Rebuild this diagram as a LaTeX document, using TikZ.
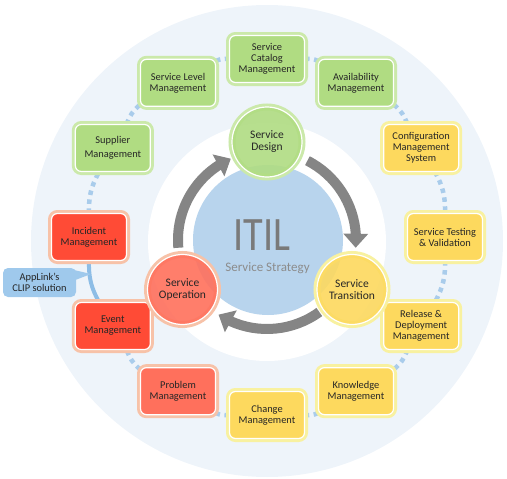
\documentclass[tikz,border=0pt]{standalone}
\usepackage{fontspec}
\setmainfont{Carlito}
\usetikzlibrary{arrows.meta,bending,calc}
\pgfdeclarelayer{bgzero}
\pgfdeclarelayer{bgone}
\pgfsetlayers{bgzero,bgone,main}
\definecolor{outerbg}{HTML}{EEF4FA}
\definecolor{itilblue}{HTML}{B8D4ED}
\definecolor{gfill}{HTML}{B0DC82}
\definecolor{gglow}{HTML}{CBE9AA}
\definecolor{yfill}{HTML}{FDD95E}
\definecolor{yglow}{HTML}{F8F1A0}
\definecolor{rfill}{HTML}{FF4B36}
\definecolor{rfilltwo}{HTML}{FF705C}
\definecolor{rglow}{HTML}{F7C2A8}
\definecolor{dotblue}{HTML}{A9CCEB}
\definecolor{clipblue}{HTML}{8DBDE6}
\definecolor{callfill}{HTML}{9FC9EC}
\definecolor{arrowgray}{HTML}{858585}
\definecolor{txt}{HTML}{262626}
\definecolor{itilgray}{HTML}{7A7A7A}
\definecolor{stratgray}{HTML}{8C8C8C}
\tikzset{
  procbox/.style={rectangle, rounded corners=6pt, minimum width=75pt, minimum height=47pt,
    inner sep=1pt, align=center, draw=white, line width=1.2pt, text=txt,
    font=\fontsize{10.4}{10.9}\selectfont},
  gbox/.style={procbox, fill=gfill, preaction={draw=gglow, line width=7pt}},
  ybox/.style={procbox, fill=yfill, preaction={draw=yglow, line width=7pt}},
  rbox/.style={procbox, fill=rfill, preaction={draw=rglow, line width=7pt}},
  rboxlight/.style={procbox, fill=rfilltwo, preaction={draw=rglow, line width=7pt}},
  phase/.style={circle, minimum size=70pt, inner sep=0pt, align=center, draw=white,
    line width=1.2pt, text=txt, font=\fontsize{11.5}{12}\selectfont},
  gphase/.style={phase, fill=gfill, fill opacity=0.9, text opacity=1, preaction={draw=gglow, line width=7pt, draw opacity=1}},
  yphase/.style={phase, fill=yfill, fill opacity=0.9, text opacity=1, preaction={draw=yglow, line width=7pt, draw opacity=1}},
  rphase/.style={phase, fill=rfilltwo, fill opacity=0.9, text opacity=1, preaction={draw=rglow, line width=7pt, draw opacity=1}},
  dotconn/.style={draw=dotblue, line width=4.5pt, dash pattern=on 4.5pt off 4.5pt},
  clipline/.style={draw=clipblue, line width=4pt},
  callout/.style={rectangle, rounded corners=5pt, fill=callfill, minimum width=73pt,
    minimum height=29pt, inner sep=1pt, align=center, text=txt,
    font=\fontsize{10.4}{11.5}\selectfont},
  garrow/.style={draw=arrowgray, line width=10pt, -{Triangle[width=24pt,length=14pt]}},
}
\begin{document}
\begin{tikzpicture}[x=1pt,y=1pt]
\useasboundingbox (0,0) rectangle (507,-479);
% backgrounds
\begin{pgfonlayer}{bgzero}
\fill[outerbg] (267,-241) circle[radius=236];
\fill[white] (267,-242) circle[radius=119];
\end{pgfonlayer}

% process boxes on the outer ring
\begin{scope}[shift={(267,-237)}]
  \node[gbox] (cat) at (90:178) {Service\\Catalog\\Management};
  \node[gbox] (av)  at (60:178) {Availability\\Management};
  \node[ybox] (cfg) at (30:178) {Configuration\\Management\\System};
  \node[ybox] (tst) at (0:178) {Service Testing\\\& Validation};
  \node[ybox] (rel) at (-30:178) {Release \&\\Deployment\\Management};
  \node[ybox] (kn)  at (-60:178) {Knowledge\\Management};
  \node[ybox] (ch)  at (-90:178) {Change\\Management};
  \node[rboxlight] (pr) at (-120:178) {Problem\\Management};
  \node[rbox] (ev)  at (-150:178) {Event\\Management};
  \node[rbox] (inc) at (180:178) {Incident\\Management};
  \node[gbox] (sup) at (150:178) {Supplier\\[3pt]Management};
  \node[gbox] (sl)  at (120:178) {Service Level\\Management};
\end{scope}

% connectors (behind the boxes)
\begin{pgfonlayer}{bgone}
\draw[dotconn] (sl) to[bend left=15] (cat);
\draw[dotconn] (cat) to[bend left=15] (av);
\draw[dotconn] (av) to[bend left=15] (cfg);
\draw[dotconn] (cfg) to[bend left=15] (tst);
\draw[dotconn] (tst) to[bend left=15] (rel);
\draw[dotconn] (rel) to[bend left=15] (kn);
\draw[dotconn] (kn) to[bend left=15] (ch);
\draw[dotconn] (ch) to[bend left=15] (pr);
\draw[dotconn] (pr) to[bend left=15] (ev);
\draw[clipline] (ev) to[bend left=15] (inc);
\draw[dotconn] (inc) to[bend left=15] (sup);
\draw[dotconn] (sup) to[bend left=15] (sl);
\end{pgfonlayer}

% callout
\node[callout] (clip) at (39.5,-282.5) {AppLink's\\CLIP solution};
\coordinate (cliptip) at (91,-274);
\fill[callfill] ([xshift=-3pt,yshift=-2pt]clip.north east) -- (cliptip)
  -- ([xshift=-3pt,yshift=-13pt]clip.north east) -- cycle;

% ITIL core
\node[circle, fill=itilblue, minimum size=150pt, inner sep=0pt] (itil) at (268,-240) {};
\node[inner sep=0pt, text=itilgray, font=\fontsize{48}{48}\selectfont] (itiltxt) at (262,-235) {\scalebox{0.84}[1]{ITIL}};
\node[inner sep=0pt, anchor=base, text=stratgray, font=\fontsize{13}{13}\selectfont] (strat) at (267.5,-271) {Service Strategy};

% lifecycle arrows
\coordinate (O) at (267,-240);
\draw[garrow] ([shift={(185:89)}]O) arc[start angle=185, end angle=114, radius=89];
\draw[garrow] ([shift={(63:89)}]O) arc[start angle=63, end angle=-5, radius=89];
\draw[garrow] ([shift={(-54:89)}]O) arc[start angle=-54, end angle=-123, radius=89];

% lifecycle phases
\node[gphase] (design) at (267,-142) {Service\\Design};
\node[yphase] (trans) at (352,-289.5) {Service\\Transition};
\node[rphase] (oper) at (182.5,-289.5) {Service\\Operation};
\end{tikzpicture}
\end{document}
